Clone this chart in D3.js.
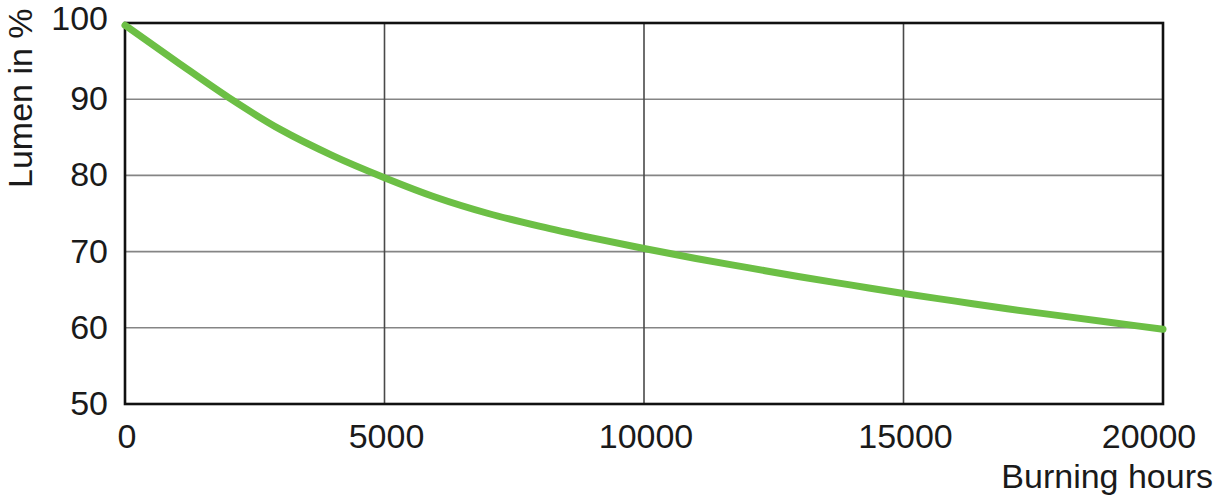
<!DOCTYPE html>
<html>
<head>
<meta charset="utf-8">
<script src="https://cdn.jsdelivr.net/npm/d3@7"></script>
<style>
  html, body { margin: 0; padding: 0; background: #fff; }
  text { font-family: "Liberation Sans", Arial, sans-serif; fill: #1a1a1a; }
</style>
</head>
<body>
<svg id="chart" width="1216" height="500"></svg>
<script>
const hours = [0, 1000, 2000, 3000, 4000, 5000, 6000, 7000, 8000, 9000, 10000,
               11000, 12000, 13000, 14000, 15000, 16000, 17000, 18000, 19000, 20000];
const lumen = [99.7, 94.9, 90.2, 86.0, 82.6, 79.7, 77.1, 75.0, 73.3, 71.8, 70.4,
               69.1, 67.9, 66.7, 65.6, 64.5, 63.5, 62.5, 61.6, 60.7, 59.8];
const xTicks = [0, 5000, 10000, 15000, 20000];
const yTicks = [50, 60, 70, 80, 90, 100];
const xTitle = "Burning hours";
const yTitle = "Lumen in %";

(function () {
const svg = d3.select("#chart");
const pl = 125, pr = 1163, pt = 23, pb = 404;

const x = d3.scaleLinear().domain([0, 20000]).range([pl, pr]);
const y = d3.scaleLinear().domain([50, 100]).range([pb, pt]);

// gridlines
const grid = svg.append("g");
grid.selectAll("line.h").data(yTicks).join("line")
  .attr("x1", pl).attr("x2", pr)
  .attr("y1", d => y(d)).attr("y2", d => y(d))
  .attr("stroke", "#858585").attr("stroke-width", 1.6);
grid.selectAll("line.v").data(xTicks).join("line")
  .attr("y1", pt).attr("y2", pb)
  .attr("x1", d => x(d)).attr("x2", d => x(d))
  .attr("stroke", "#4a4a4a").attr("stroke-width", 1.6);

// frame
svg.append("rect")
  .attr("x", pl).attr("y", pt)
  .attr("width", pr - pl).attr("height", pb - pt)
  .attr("fill", "none").attr("stroke", "#111").attr("stroke-width", 2.6);

// y tick labels
svg.append("g").selectAll("text").data(yTicks).join("text")
  .attr("x", 108).attr("y", d => y(d) + (d === 100 ? -2 : 2))
  .attr("text-anchor", "end")
  .attr("dominant-baseline", "middle")
  .attr("font-size", 34)
  .text(d => d);

// x tick labels
svg.append("g").selectAll("text").data(xTicks).join("text")
  .attr("x", (d, i) => x(d) + (i === xTicks.length - 1 ? -14 : 2))
  .attr("y", 448)
  .attr("text-anchor", "middle")
  .attr("font-size", 34)
  .text(d => d);

// axis titles
svg.append("text")
  .attr("x", 1213).attr("y", 488)
  .attr("text-anchor", "end")
  .attr("font-size", 34)
  .text(xTitle);

svg.append("text")
  .attr("transform", "translate(32,188) rotate(-90)")
  .attr("text-anchor", "start")
  .attr("font-size", 34)
  .text(yTitle);

// curve
const line = d3.line()
  .x((d, i) => x(hours[i]))
  .y(d => y(d))
  .curve(d3.curveMonotoneX);

svg.append("path")
  .datum(lumen)
  .attr("d", line)
  .attr("fill", "none")
  .attr("stroke", "#6cbf45")
  .attr("stroke-width", 7)
  .attr("stroke-linecap", "round");
})();
</script>
</body>
</html>
